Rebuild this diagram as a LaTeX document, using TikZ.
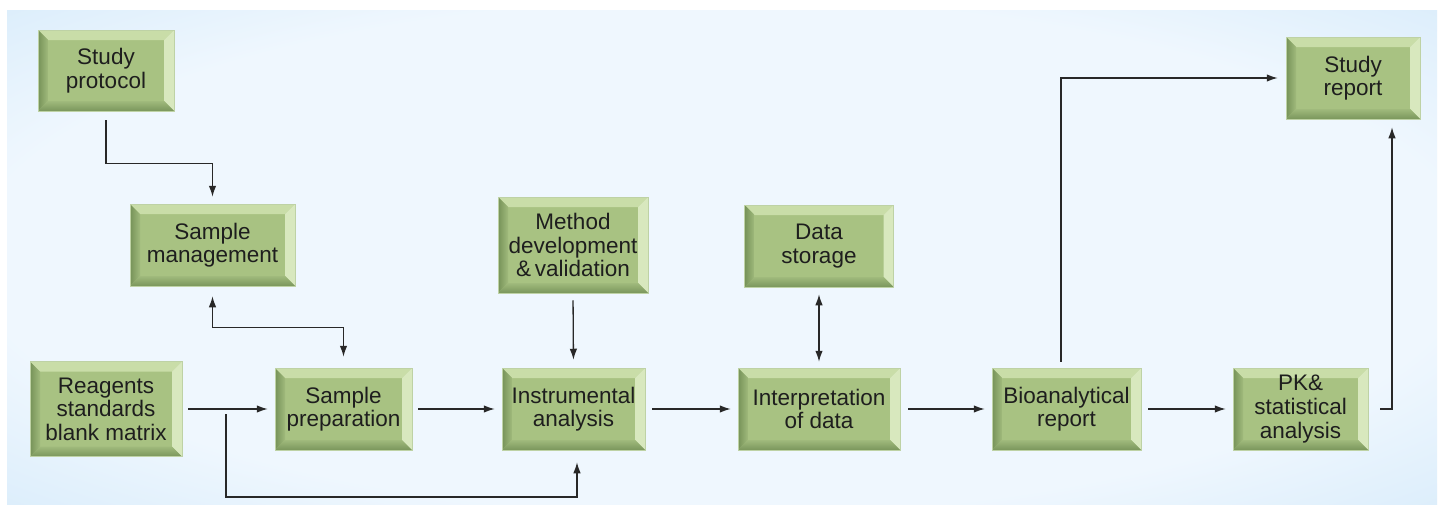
\documentclass[tikz,border=0pt]{standalone}
\usepackage{fontspec}
\setmainfont{Liberation Sans}
\usetikzlibrary{arrows.meta,calc}
\definecolor{bgedge}{RGB}{192,224,247}
\definecolor{bgmid}{RGB}{239,247,254}
\definecolor{face}{RGB}{168,194,130}
\definecolor{bvtopc}{RGB}{201,221,168}
\definecolor{bvrightc}{RGB}{216,232,190}
\definecolor{bvleftd}{RGB}{118,146,88}
\definecolor{bvleftl}{RGB}{160,186,124}
\definecolor{bvbotc}{RGB}{122,150,92}
\definecolor{edgec}{RGB}{190,210,165}
\definecolor{linec}{RGB}{40,40,40}
\definecolor{txt}{RGB}{30,30,30}
\pgfdeclareradialshading{bgrad}{\pgfpointorigin}{color(0bp)=(bgmid); color(26bp)=(bgmid); color(50bp)=(bgedge); color(72bp)=(bgedge)}
\def\bv{10pt}
\newcommand\bevelpic{%
  \coordinate (pnw) at (path picture bounding box.north west);
  \coordinate (pne) at (path picture bounding box.north east);
  \coordinate (psw) at (path picture bounding box.south west);
  \coordinate (pse) at (path picture bounding box.south east);
  \fill[bvtopc] (pnw) -- (pne) -- ([shift={(-\bv,-\bv)}]pne) -- ([shift={(\bv,-\bv)}]pnw) -- cycle;
  \shade[left color=bvleftd, right color=bvleftl] (pnw) -- ([shift={(\bv,-\bv)}]pnw) -- ([shift={(\bv,\bv)}]psw) -- (psw) -- cycle;
  \fill[bvrightc] (pne) -- (pse) -- ([shift={(-\bv,\bv)}]pse) -- ([shift={(-\bv,-\bv)}]pne) -- cycle;
  \shade[top color=bvleftl, bottom color=bvbotc] (psw) -- ([shift={(\bv,\bv)}]psw) -- ([shift={(-\bv,\bv)}]pse) -- (pse) -- cycle;
}
\tikzset{
  bbox/.style={fill=face, draw=edgec, line width=0.5pt, inner sep=0pt, align=center,
    text=txt, font=\fontsize{22.5}{23.6}\selectfont, path picture={\bevelpic}},
  arr/.style={draw=linec, line width=1.3pt, -{Latex[length=11pt,width=7.5pt]}},
  darr/.style={draw=linec, line width=1.3pt, {Latex[length=11pt,width=7.5pt]}-{Latex[length=11pt,width=7.5pt]}}
}
\begin{document}
\begin{tikzpicture}[x=1pt,y=-1pt]
\useasboundingbox (0,0) rectangle (1445,506);
\fill[white] (0,0) rectangle (1445,506);
\shade[shading=bgrad] (7,10) rectangle (1437,504);

\node[bbox, minimum width=136pt, minimum height=81pt] (sp) at (106,70.5) {Study\\protocol};
\node[bbox, minimum width=165pt, minimum height=82pt] (sm) at (212.5,245) {Sample\\management};
\node[bbox, minimum width=152pt, minimum height=95pt] (rg) at (106,409) {Reagents\\standards\\blank matrix};
\node[bbox, minimum width=137pt, minimum height=82pt] (prep) at (343.5,409) {Sample\\preparation};
\node[bbox, minimum width=150pt, minimum height=96pt] (md) at (573,245) {Method\\development\\\&\,validation};
\node[bbox, minimum width=143pt, minimum height=82pt] (ia) at (573.5,409) {Instrumental\\analysis};
\node[bbox, minimum width=149pt, minimum height=82pt] (ds) at (819,246) {Data\\storage};
\node[bbox, minimum width=162pt, minimum height=82pt] (id) at (819,409) {Interpretation\\of data};
\node[bbox, minimum width=149pt, minimum height=82pt] (br) at (1066.5,409) {Bioanalytical\\report};
\node[bbox, minimum width=135pt, minimum height=82pt] (pk) at (1300.5,409) {PK\&\\statistical\\analysis};
\node[bbox, minimum width=134pt, minimum height=82pt] (sr) at (1353,78) {Study\\report};

\coordinate (bs) at (226,414);

\draw[arr, shorten <=9pt, shorten >=7pt] (sp.south) -- ++(0,52) -| (sm.north);
\draw[darr, shorten <=10pt, shorten >=11pt] (sm.south) -- ++(0,41) -| (prep.north);
\draw[arr, shorten <=6pt, shorten >=7pt] (rg.east) -- (prep.west);
\draw[arr, shorten >=12pt] (bs) -- ++(0,83) -| ([xshift=3.5pt]ia.south);
\draw[arr, shorten <=6pt, shorten >=7pt] (prep.east) -- (ia.west);
\draw[arr, shorten <=7pt, shorten >=8pt] (md.south) -- (ia.north);
\draw[arr, shorten <=7pt, shorten >=7pt] (ia.east) -- (id.west);
\draw[darr, shorten <=7pt, shorten >=6pt] (ds.south) -- (id.north);
\draw[arr, shorten <=8pt, shorten >=7pt] (id.east) -- (br.west);
\draw[arr, shorten <=7pt, shorten >=7pt] (br.east) -- (pk.west);
\draw[arr, shorten <=6pt, shorten >=8pt] ([xshift=-5.5pt]br.north) |- (sr.west);
\draw[arr, shorten <=12pt, shorten >=8pt] (pk.east) -| ([xshift=39pt]sr.south);
\end{tikzpicture}
\end{document}
